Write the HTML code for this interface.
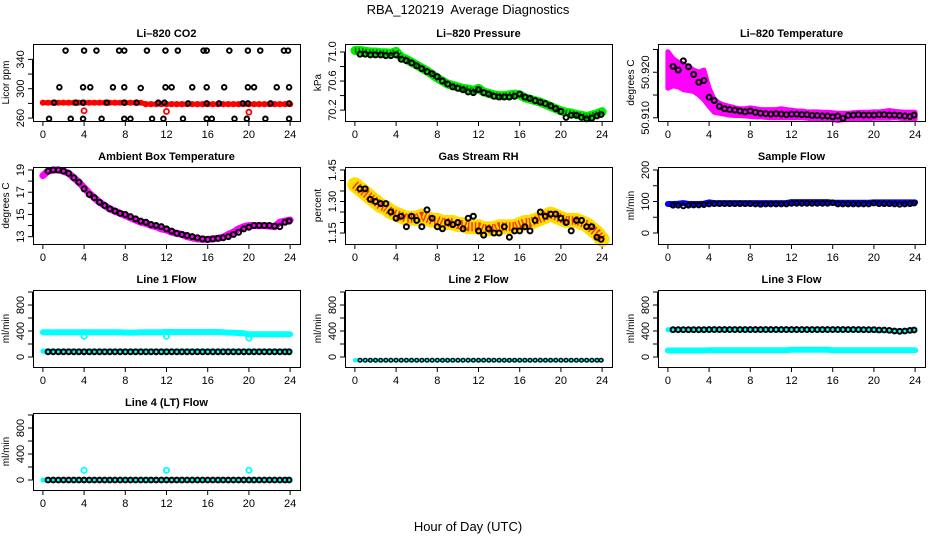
<!DOCTYPE html>
<html><head><meta charset="utf-8"><style>
html,body{margin:0;padding:0;background:#fff;}
svg{display:block;font-family:"Liberation Sans",Arial,sans-serif;}
</style></head><body>
<svg id="c" width="936" height="540" viewBox="0 0 936 540">
<text x="468" y="14" font-size="13" text-anchor="middle" style="white-space:pre">RBA_120219  Average Diagnostics</text>
<text x="468" y="531" font-size="13" text-anchor="middle">Hour of Day (UTC)</text>
</svg>
<script>
const hours = [0,0.5,1,1.5,2,2.5,3,3.5,4,4.5,5,5.5,6,6.5,7,7.5,8,8.5,9,9.5,10,10.5,11,11.5,12,12.5,13,13.5,14,14.5,15,15.5,16,16.5,17,17.5,18,18.5,19,19.5,20,20.5,21,21.5,22,22.5,23,23.5,24];
const blackHours = [0.5,1,1.5,2,2.5,3,3.5,4,4.5,5,5.5,6,6.5,7,7.5,8,8.5,9,9.5,10,10.5,11,11.5,12,12.5,13,13.5,14,14.5,15,15.5,16,16.5,17,17.5,18,18.5,19,19.5,20,20.5,21,21.5,22,22.5,23,23.5,23.9];
const xTicks = [0,4,8,12,16,20,24];

const co2Red = [281,281,281,281,281,281,281,281,281,281,281,281,281,281,281,281,281,281,281,281,279,279,279,279,279,279,279,279,279,279,279,279,279,279,279,279,279,279,279,279,279,279,279,279,279,279,279,279,279];
const co2RedOutT = [4,12,20];
const co2RedOutV = [270,269,268];
const co2BlackT = [2.2,4,5.2,7.4,7.9,10.1,11.9,13.1,15.6,15.9,18.1,19.9,21.1,23.4,23.8, 1.6,3.9,4.6,6.8,7.9,9.5,11.9,12.5,14.5,15.9,17.6,19.9,20.5,22.7,23.9, 1.1,3.2,3.9,6.2,7.9,9.1,11.2,11.8,14.1,15.9,17.1,19.4,19.9,22.1,23.9, 0.6,2.7,3.9,5.7,7.9,8.5,10.6,11.7,13.6,15.9,16.4,18.6,19.8,21.6,23.9];
const co2BlackV = [352,352,352,352,352,352,352,352,352,352,352,352,352,352,352, 302,302,302,302,302,301,302,302,302,302,302,302,302,302,302, 281,281,281,281,281,281,281,281,280,280,280,280,280,280,280, 259,259,259,259,259,259,259,259,259,259,259,259,259,259,259];

const presGreen = [71.02,71.02,71.01,71.0,71.0,70.99,70.99,70.98,71.01,70.93,70.9,70.86,70.82,70.78,70.74,70.69,70.64,70.6,70.56,70.54,70.52,70.5,70.49,70.47,70.5,70.45,70.43,70.41,70.4,70.4,70.41,70.42,70.41,70.37,70.35,70.33,70.31,70.28,70.25,70.22,70.19,70.17,70.16,70.14,70.13,70.11,70.13,70.15,70.18];
const presBlack = [70.97,70.97,70.96,70.96,70.96,70.95,70.95,70.96,70.9,70.88,70.85,70.81,70.77,70.73,70.7,70.66,70.6,70.56,70.52,70.5,70.48,70.45,70.44,70.48,70.44,70.42,70.39,70.38,70.38,70.38,70.39,70.42,70.38,70.36,70.33,70.31,70.29,70.26,70.22,70.18,70.1,70.13,70.13,70.1,70.08,70.09,70.12,70.14];

const tempMagUpper = [50.9245,50.9230,50.9222,50.9218,50.9212,50.9205,50.9200,50.9205,50.9165,50.9140,50.9132,50.9128,50.9125,50.9122,50.9120,50.9120,50.9122,50.9120,50.9118,50.9118,50.9118,50.9118,50.9120,50.9118,50.9117,50.9115,50.9115,50.9113,50.9113,50.9113,50.9112,50.9112,50.9111,50.9110,50.9110,50.9110,50.9111,50.9112,50.9112,50.9112,50.9113,50.9113,50.9114,50.9116,50.9114,50.9113,50.9112,50.9112,50.9112];
const tempMagLower = [50.9165,50.9170,50.9168,50.9162,50.9160,50.9158,50.9150,50.9140,50.9125,50.9112,50.9110,50.9108,50.9106,50.9105,50.9105,50.9104,50.9103,50.9102,50.9102,50.9101,50.9100,50.9100,50.9100,50.9100,50.9100,50.9100,50.9100,50.9099,50.9098,50.9098,50.9097,50.9097,50.9096,50.9094,50.9096,50.9096,50.9097,50.9098,50.9098,50.9098,50.9099,50.9099,50.9099,50.9099,50.9100,50.9099,50.9098,50.9097,50.9097];
const tempBlack = [50.9213,50.9205,50.9225,50.9212,50.9195,50.9178,50.9182,50.9145,50.9138,50.9125,50.912,50.9118,50.9117,50.9115,50.9113,50.9115,50.9112,50.911,50.9109,50.9108,50.9109,50.9108,50.9107,50.9108,50.9108,50.9107,50.9107,50.9105,50.9105,50.9104,50.9104,50.9102,50.9104,50.9099,50.9105,50.9106,50.9107,50.9106,50.9106,50.9106,50.9107,50.9107,50.9106,50.9106,50.9105,50.9104,50.9103,50.9106];

const ambMag = [18.5,18.9,19.0,19.0,18.9,18.7,18.3,17.9,17.4,16.9,16.5,16.1,15.8,15.5,15.3,15.1,14.9,14.7,14.5,14.3,14.2,14.0,13.9,13.7,13.6,13.4,13.3,13.2,13.0,12.9,12.8,12.75,12.75,12.8,12.85,12.95,13.2,13.4,13.7,13.9,14.0,14.0,14.0,14.0,13.95,13.9,14.3,14.4,14.5];
const ambBlack = [18.9,19.0,19.0,18.9,18.7,18.3,17.9,17.3,16.8,16.5,16.1,15.8,15.5,15.3,15.1,15.0,14.8,14.6,14.4,14.3,14.1,14.0,13.9,13.7,13.5,13.3,13.2,13.1,13.0,12.9,12.8,12.75,12.8,12.85,12.9,13.0,13.2,13.4,13.7,13.85,14.0,14.0,14.0,14.0,13.95,13.9,14.3,14.4];

const rhOrange = [1.38,1.36,1.34,1.32,1.3,1.28,1.27,1.25,1.24,1.23,1.22,1.22,1.22,1.23,1.22,1.21,1.21,1.2,1.2,1.2,1.19,1.19,1.18,1.18,1.18,1.17,1.17,1.17,1.18,1.18,1.18,1.18,1.19,1.2,1.2,1.21,1.22,1.23,1.24,1.23,1.22,1.21,1.21,1.21,1.2,1.19,1.17,1.15,1.12];
const rhBlack = [1.36,1.36,1.31,1.3,1.29,1.29,1.25,1.22,1.23,1.18,1.23,1.21,1.18,1.26,1.22,1.18,1.17,1.2,1.19,1.2,1.17,1.22,1.23,1.16,1.14,1.17,1.15,1.15,1.18,1.13,1.16,1.16,1.18,1.16,1.21,1.25,1.23,1.24,1.24,1.22,1.2,1.16,1.21,1.21,1.18,1.18,1.13,1.12];

const sampBlue = [92,92,93,95,92,92,92,93,97,95,95,95,95,95,95,95,95,95,95,95,95,95,95,95,98,98,98,98,98,98,98,98,96,96,96,96,96,96,96,96,97,97,97,97,97,97,97,97,97];
const sampBlack = [88,88,86,88,89,89,90,92,93,93,93,93,93,93,93,93,92,91,92,92,92,92,92,94,94,94,94,94,94,94,94,96,92,92,92,92,92,92,92,95,93,93,93,92,91,92,93,95];

const l1CyanHi = [380,380,378,380,380,380,380,380,380,380,380,380,380,380,380,380,375,375,375,380,380,380,382,382,385,385,385,385,385,385,385,385,385,385,385,380,375,372,370,365,350,350,350,350,350,350,350,350,350];
const l1CyanLo = [90,90,90,90,90,90,90,90,90,90,90,90,90,90,90,90,90,90,90,90,90,90,90,90,90,90,90,90,90,90,90,90,90,90,90,90,90,90,90,90,90,90,90,90,90,90,90,90,90];
const l1CyanOutT = [4,12,20];
const l1CyanOutV = [320,320,290];
const l1Black = [80,80,80,80,80,80,80,80,80,80,80,80,80,80,80,80,80,80,80,80,80,80,80,80,80,80,80,80,80,80,80,80,80,80,80,80,80,80,80,80,80,80,80,80,80,80,80,80];

const l2Cyan = [-50,-50,-50,-50,-50,-50,-50,-50,-50,-50,-50,-50,-50,-50,-50,-50,-50,-50,-50,-50,-50,-50,-50,-50,-50,-50,-50,-50,-50,-50,-50,-50,-50,-50,-50,-50,-50,-50,-50,-50,-50,-50,-50,-50,-50,-50,-50,-50,-50];
const l2Black = [-50,-50,-50,-50,-50,-50,-50,-50,-50,-50,-50,-50,-50,-50,-50,-50,-50,-50,-50,-50,-50,-50,-50,-50,-50,-50,-50,-50,-50,-50,-50,-50,-50,-50,-50,-50,-50,-50,-50,-50,-50,-50,-50,-50,-50,-50,-50,-50];

const l3CyanHi = [420,420,420,420,420,420,420,420,420,420,420,420,420,420,420,420,420,420,420,420,420,420,420,420,420,420,420,420,420,420,420,420,420,420,420,420,420,420,420,420,410,410,410,410,400,400,405,410,415];
const l3CyanLo = [100,100,100,100,100,100,100,100,105,105,105,105,105,105,105,105,105,105,105,105,105,105,105,105,110,110,110,110,110,110,110,110,105,105,105,105,105,105,105,105,105,105,105,105,105,105,105,105,105];
const l3Black = [420,420,420,420,420,420,420,422,422,422,422,422,422,422,422,422,422,422,422,422,422,422,422,422,422,422,422,422,422,422,422,422,422,422,422,422,422,420,420,420,415,415,410,400,395,400,410,415];

const l4Cyan = [0,0,0,0,0,0,0,0,0,0,0,0,0,0,0,0,0,0,0,0,0,0,0,0,0,0,0,0,0,0,0,0,0,0,0,0,0,0,0,0,0,0,0,0,0,0,0,0,0];
const l4CyanOutT = [4,12,20];
const l4CyanOutV = [150,150,150];
const l4Black = [0,0,0,0,0,0,0,0,0,0,0,0,0,0,0,0,0,0,0,0,0,0,0,0,0,0,0,0,0,0,0,0,0,0,0,0,0,0,0,0,0,0,0,0,0,0,0,0];

const svg = document.getElementById('c');
const NS = 'http://www.w3.org/2000/svg';
function mk(tag, attrs, parent){
  const e = document.createElementNS(NS, tag);
  for (const k in attrs) e.setAttribute(k, attrs[k]);
  (parent||svg).appendChild(e);
  return e;
}
const COLS = [33, 345, 658], ROWS = [44, 167, 290, 413], W = 267, H = 77;

function panel(col,row,title,ylab,ymin,ymax,ticks,labels,slug){
  const L = COLS[col], T = ROWS[row];
  const g = mk('g',{});
  
  
  const sx = t => L + W*(t+0.96)/25.92;
  const sy = v => T + H - H*(v-ymin)/(ymax-ymin);
  const tt = mk('text',{x:L+W/2,y:T-7,'font-size':11,'font-weight':'bold','text-anchor':'middle'},g);
  tt.textContent = title;
  
  
  const yl = mk('text',{x:0,y:0,'font-size':10,'text-anchor':'middle',transform:`translate(${L-24},${T+H/2}) rotate(-90)`},g);
  yl.textContent = ylab;
  
  
  const ax = mk('g',{stroke:'#000','stroke-width':1,fill:'none'},g);
  
  
  mk('line',{x1:sx(0),x2:sx(24),y1:T+H+0.5,y2:T+H+0.5},ax);
  xTicks.forEach(t=>{
    mk('line',{x1:sx(t),x2:sx(t),y1:T+H,y2:T+H+5},ax);
    const lb = mk('text',{x:sx(t),y:T+H+17,'font-size':11,'text-anchor':'middle',stroke:'none',fill:'#000'},g);
    lb.textContent = t;
    
    
  });
  ticks.forEach(v=>{
    mk('line',{x1:L-5,x2:L,y1:sy(v),y2:sy(v)},ax);
  });
  mk('line',{x1:L-0.5,x2:L-0.5,y1:sy(ticks[0]),y2:sy(ticks[ticks.length-1])},ax);
  labels.forEach(v=>{
    const lb = mk('text',{x:0,y:0,'font-size':11,'text-anchor':'middle',transform:`translate(${L-9},${sy(v)}) rotate(-90)`},g);
    lb.textContent = v;
    
    
  });
  const data = mk('g',{},g);
  
  
  mk('rect',{x:L+0.5,y:T+0.5,width:W,height:H,fill:'none',stroke:'#000','stroke-width':1},g);
  return {sx,sy,g:data};
}
function band(p,ts,vs,color,width,name,fill2){
  const pts = ts.map((t,i)=>p.sx(t).toFixed(1)+','+p.sy(vs[i]).toFixed(1)).join(' ');
  const pl = mk('polyline',{points:pts,fill:'none',stroke:color,'stroke-width':width,'stroke-linejoin':'round','stroke-linecap':'round'},p.g);
  
  
  if (fill2){
    const p2 = mk('polyline',{points:pts,fill:'none',stroke:fill2,'stroke-width':width*0.6,'stroke-dasharray':'1.5 2','stroke-linejoin':'round'},p.g);
    
    
  }
}
function area(p,ts,hi,lo,color,name){
  const a = ts.map((t,i)=>p.sx(t).toFixed(1)+','+p.sy(hi[i]).toFixed(1));
  const b = ts.map((t,i)=>p.sx(t).toFixed(1)+','+p.sy(lo[i]).toFixed(1)).reverse();
  const pg = mk('polygon',{points:a.concat(b).join(' '),fill:color,stroke:color,'stroke-width':5,'stroke-linejoin':'round'},p.g);
  
  
}
function pts(p,ts,vs,color,r,sw,name){
  ts.forEach((t,i)=>{
    const c = mk('circle',{cx:p.sx(t),cy:p.sy(vs[i]),r:r,fill:'none',stroke:color,'stroke-width':sw},p.g);
    
    
  });
}

// Li-820 CO2
let p = panel(0,0,'Li\u2013820 CO2','Licor ppm',256,361,[260,280,300,320,340],[260,300,340],'co2');
band(p,hours,co2Red,'#ff0000',5,'co2-red');
pts(p,hours,co2Red,'#ff0000',2.3,1.6,'co2-red-point');
pts(p,co2RedOutT,co2RedOutV,'#ff0000',2.5,1.8,'co2-red-outlier');
pts(p,co2BlackT,co2BlackV,'#000',2.3,1.9,'co2-black-point');

// Pressure
p = panel(1,0,'Li\u2013820 Pressure','kPa',70.05,71.11,[70.2,70.4,70.6,70.8,71.0],['70.2','70.6','71.0'],'pressure');
band(p,hours,presGreen,'#00ee00',9,'pressure-green','#006600');
pts(p,blackHours,presBlack,'#000',2.5,2,'pressure-black-point');

// Temperature
p = panel(2,0,'Li\u2013820 Temperature','degrees C',50.9093,50.9262,[50.910,50.915,50.920,50.925],['50.910','50.920'],'li820-temp');
area(p,hours,tempMagUpper,tempMagLower,'#ff00ff','temp-magenta');
pts(p,blackHours,tempBlack,'#000',2.5,2,'temp-black-point');

// Ambient
p = panel(0,1,'Ambient Box Temperature','degrees C',12.34,19.27,[13,14,15,16,17,18,19],[13,15,17,19],'ambient');
band(p,hours,ambMag,'#ff00ff',7,'ambient-magenta');
pts(p,blackHours,ambBlack,'#000',2.5,2,'ambient-black-point');

// RH
p = panel(1,1,'Gas Stream RH','percent',1.0976,1.4643,[1.15,1.20,1.25,1.30,1.35,1.40,1.45],['1.15','1.30','1.45'],'rh');
band(p,hours,rhOrange,'#ffdd00',15,'rh-orange','#ff3300');
pts(p,blackHours,rhBlack,'#000',2.5,2,'rh-black-point');

// Sample flow
p = panel(2,1,'Sample Flow','ml/min',-34.9,209.5,[0,50,100,150,200],[0,100,200],'sample-flow');
band(p,hours,sampBlue,'#0000ff',6,'sample-blue');
pts(p,blackHours,sampBlack,'#000',2.4,1.9,'sample-black-point');

const fT=[0,200,400,600,800,1000], fL=[0,400,800];
// Line 1
p = panel(0,2,'Line 1 Flow','ml/min',-154,1031,fT,fL,'line1');
band(p,hours,l1CyanHi,'#00ffff',6,'line1-cyan-high');
band(p,hours,l1CyanLo,'#00ffff',5,'line1-cyan-low');
pts(p,l1CyanOutT,l1CyanOutV,'#00ffff',2.6,1.8,'line1-cyan-outlier');
pts(p,blackHours,l1Black,'#000',2.4,2,'line1-black-point');

// Line 2
p = panel(1,2,'Line 2 Flow','ml/min',-154,1031,fT,fL,'line2');
band(p,hours,l2Cyan,'#00ffff',4,'line2-cyan');
pts(p,blackHours,l2Black,'#000',1.8,1.4,'line2-black-point');

// Line 3
p = panel(2,2,'Line 3 Flow','ml/min',-154,1031,fT,fL,'line3');
band(p,hours,l3CyanHi,'#00ffff',5,'line3-cyan-high');
band(p,hours,l3CyanLo,'#00ffff',6,'line3-cyan-low');
pts(p,blackHours,l3Black,'#000',2.4,2,'line3-black-point');

// Line 4
p = panel(0,3,'Line 4 (LT) Flow','ml/min',-154,1031,fT,fL,'line4');
band(p,hours,l4Cyan,'#00ffff',5,'line4-cyan');
pts(p,l4CyanOutT,l4CyanOutV,'#00ffff',2.6,1.8,'line4-cyan-outlier');
pts(p,blackHours,l4Black,'#000',2.4,2,'line4-black-point');
</script>
</body></html>
